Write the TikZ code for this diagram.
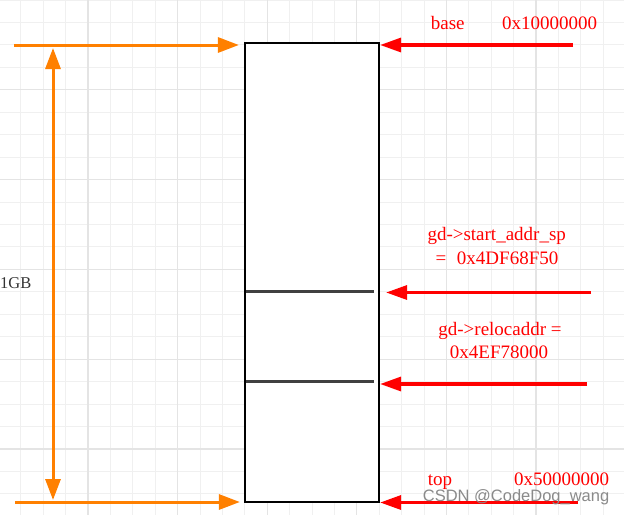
\documentclass[tikz,border=0pt]{standalone}
\usepackage{fontspec}
\setmainfont{Liberation Serif}
\newfontfamily\wmfont{Liberation Sans}
\usetikzlibrary{arrows.meta,positioning,calc}

\definecolor{gridgray}{HTML}{F0F0F0}
\definecolor{gridgraydark}{HTML}{E4E4E4}
\definecolor{divgray}{HTML}{404040}
\definecolor{ptrred}{HTML}{FF0000}
\definecolor{sizeorange}{HTML}{FF8000}
\definecolor{labelgray}{HTML}{333333}
\definecolor{wmgray}{HTML}{8A8A8A}

\begin{document}
\begin{tikzpicture}[x=1pt,y=-1pt,
  gridthin/.style={draw=gridgray,line width=1pt},
  gridthick/.style={draw=gridgraydark,line width=1.2pt},
  memblock/.style={draw=black,fill=white,line width=2.2pt,minimum width=134pt,minimum height=459pt,inner sep=0pt},
  divider/.style={draw=divgray,line width=2.6pt},
  ptrarrow/.style={draw=ptrred,line width=3.2pt,-{Triangle[length=21pt,width=14pt]}},
  sizearrow/.style={draw=sizeorange,line width=3pt,-{Triangle[length=21pt,width=15pt]}},
  sizedim/.style={draw=sizeorange,line width=3pt,{Triangle[length=21pt,width=15pt]}-{Triangle[length=21pt,width=15pt]}},
  ptrlabel/.style={text=ptrred,font=\fontsize{19}{22}\selectfont,inner sep=0pt,anchor=base},
  sizelabel/.style={text=labelgray,font=\fontsize{16.5}{19}\selectfont,inner sep=0pt,anchor=base west},
  wmark/.style={text=wmgray,font=\wmfont\fontsize{16.5}{19}\selectfont,inner sep=0pt,anchor=base west}]

  \useasboundingbox (0,0) rectangle (624,515);
  \fill[white] (0,0) rectangle (624,515);

  % ------- 背景の方眼 -------
  \foreach \i in {0,...,28} {
    \draw[gridthin] ({-1.6+22.4*\i},0) -- ++(0,515);
  }
  \foreach \j in {0,...,23} {
    \draw[gridthin] (0,{22.45*\j}) -- ++(624,0);
  }
  \foreach \i in {1,...,7} {
    \draw[gridthick] ({-1.6+89.6*\i},0) -- ++(0,515);
  }
  \foreach \j in {1,...,5} {
    \draw[gridthick] (0,{89.8*\j}) -- ++(624,0);
  }

  % ------- メモリ領域 -------
  \node[memblock] (mem) at (312,272.5) {};
  \draw[divider] (246,291.7) -- (374,291.7);                          % start_addr_sp
  \draw[divider] (246,381.5) -- (374,381.5);                          % relocaddr

  % ------- 左側：1GB の範囲（オレンジ） -------
  \coordinate (oTopS) at (14,45);
  \coordinate (oBotS) at (15,502);
  \coordinate (dimTop) at (53,48);
  \coordinate (dimBot) at (53,500);
  \draw[sizearrow,shorten >=5pt] (oTopS) -- (oTopS -| mem.west);
  \draw[sizearrow,shorten >=4pt] (oBotS) -- (oBotS -| mem.west);
  \draw[sizedim] (dimTop) -- (dimBot);
  \node[sizelabel] (sizeL) at (0,288.3) {1GB};

  % ------- 右側：アドレスを指す矢印（赤） -------
  \coordinate (baseS) at (573,45);
  \coordinate (spS) at (591,292.5);
  \coordinate (relocS) at (587,384);
  \coordinate (topS) at (578,502.5);
  \draw[ptrarrow] (baseS) -- (baseS -| mem.east);
  \draw[ptrarrow,shorten >=6pt] (spS) -- (spS -| mem.east);
  \draw[ptrarrow] (relocS) -- (relocS -| mem.east);
  \draw[ptrarrow] (topS) -- (topS -| mem.east);

  \node[ptrlabel] (baseL) at (447.7,29.5) {base};
  \node[ptrlabel] (baseV) at (549.7,29.5) {0x10000000};
  \node[ptrlabel] (spL) at (496.7,240) {gd->start\_addr\_sp};
  \node[ptrlabel] (spV) at (497,264) {=\hspace{0.56em}0x4DF68F50};
  \node[ptrlabel] (relL) at (500,335) {gd->relocaddr =};
  \node[ptrlabel] (relV) at (499,358.3) {0x4EF78000};
  \node[ptrlabel] (topL) at (440,485) {top};
  \node[ptrlabel] (topV) at (561.5,485) {0x50000000};

  % ------- 透かし -------
  \node[wmark] (wm) at (422.7,501) {CSDN @CodeDog\_wang};

\end{tikzpicture}
\end{document}
